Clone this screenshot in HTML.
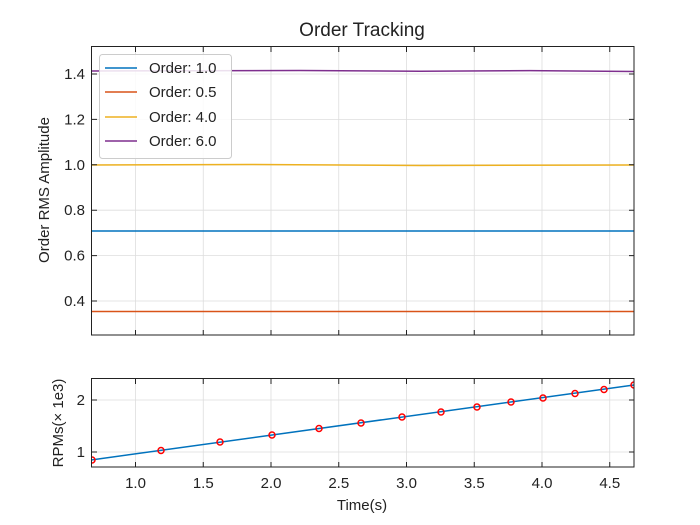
<!DOCTYPE html>
<html><head><style>body{margin:0;background:#fff}svg{display:block}text{font-family:"Liberation Sans",sans-serif;fill:#222}</style></head><body>
<svg width="700" height="525" viewBox="0 0 700 525">
<defs><clipPath id="c1"><rect x="91" y="46" width="543" height="289"/></clipPath><clipPath id="c2"><rect x="91" y="378" width="543" height="89"/></clipPath></defs>
<g stroke="#ddd" stroke-width="0.8">
<line x1="135.5" y1="46" x2="135.5" y2="335"/><line x1="203.25" y1="46" x2="203.25" y2="335"/><line x1="271" y1="46" x2="271" y2="335"/><line x1="338.75" y1="46" x2="338.75" y2="335"/><line x1="406.5" y1="46" x2="406.5" y2="335"/><line x1="474.25" y1="46" x2="474.25" y2="335"/><line x1="542" y1="46" x2="542" y2="335"/><line x1="609.75" y1="46" x2="609.75" y2="335"/>
<line x1="91" y1="301" x2="634" y2="301"/><line x1="91" y1="255.6" x2="634" y2="255.6"/><line x1="91" y1="210.2" x2="634" y2="210.2"/><line x1="91" y1="164.8" x2="634" y2="164.8"/><line x1="91" y1="119.4" x2="634" y2="119.4"/><line x1="91" y1="74" x2="634" y2="74"/>
<line x1="135.5" y1="378" x2="135.5" y2="467"/><line x1="203.25" y1="378" x2="203.25" y2="467"/><line x1="271" y1="378" x2="271" y2="467"/><line x1="338.75" y1="378" x2="338.75" y2="467"/><line x1="406.5" y1="378" x2="406.5" y2="467"/><line x1="474.25" y1="378" x2="474.25" y2="467"/><line x1="542" y1="378" x2="542" y2="467"/><line x1="609.75" y1="378" x2="609.75" y2="467"/>
<line x1="91" y1="400" x2="634" y2="400"/><line x1="91" y1="452" x2="634" y2="452"/>
</g>
<g clip-path="url(#c1)" fill="none" stroke-width="1.5">
<line x1="91" y1="231" x2="634" y2="231" stroke="#0072BD"/>
<line x1="91" y1="311.5" x2="634" y2="311.5" stroke="#D95319"/>
<polyline points="91,165 250,164.5 420,165.5 634,165" stroke="#EDB120"/>
<polyline points="91,71 300,70.5 420,71.3 530,70.6 634,71.5" stroke="#7E2F8E"/>
</g>
<g clip-path="url(#c2)">
<line x1="91" y1="460" x2="634" y2="385" stroke="#0072BD" stroke-width="1.5"/>
<g fill="none" stroke="red" stroke-width="1.5">
<circle cx="92" cy="460" r="3"/><circle cx="161" cy="450.5" r="3"/><circle cx="220" cy="442" r="3"/><circle cx="272" cy="435" r="3"/><circle cx="319" cy="428.5" r="3"/><circle cx="361" cy="423" r="3"/><circle cx="402" cy="417" r="3"/><circle cx="441" cy="412" r="3"/><circle cx="477" cy="407" r="3"/><circle cx="511" cy="402" r="3"/><circle cx="543" cy="398" r="3"/><circle cx="575" cy="393.5" r="3"/><circle cx="604" cy="389.5" r="3"/><circle cx="634" cy="385" r="3"/>
</g></g>
<g fill="none" stroke="#222" stroke-width="1">
<rect x="91.5" y="46.5" width="542.5" height="288.5"/>
<rect x="91.5" y="378.5" width="542.5" height="88.5"/>
<path d="M135.5 335v-5M203.25 335v-5M271 335v-5M338.75 335v-5M406.5 335v-5M474.25 335v-5M542 335v-5M609.75 335v-5M135.5 47v5M203.25 47v5M271 47v5M338.75 47v5M406.5 47v5M474.25 47v5M542 47v5M609.75 47v5M92 301h5M92 255.6h5M92 210.2h5M92 164.8h5M92 119.4h5M92 74h5M634 301h-5M634 255.6h-5M634 210.2h-5M634 164.8h-5M634 119.4h-5M634 74h-5"/>
<path d="M135.5 467v-5M203.25 467v-5M271 467v-5M338.75 467v-5M406.5 467v-5M474.25 467v-5M542 467v-5M609.75 467v-5M135.5 379v5M203.25 379v5M271 379v5M338.75 379v5M406.5 379v5M474.25 379v5M542 379v5M609.75 379v5M92 400h5M92 452h5M634 400h-5M634 452h-5"/>
</g>
<g font-size="15" text-anchor="end">
<text x="85" y="306">0.4</text><text x="85" y="260.6">0.6</text><text x="85" y="215.2">0.8</text><text x="85" y="169.8">1.0</text><text x="85" y="124.4">1.2</text><text x="85" y="79">1.4</text>
<text x="85" y="405">2</text><text x="85" y="457">1</text>
</g>
<g font-size="15" text-anchor="middle">
<text x="135.5" y="488">1.0</text><text x="203.25" y="488">1.5</text><text x="271" y="488">2.0</text><text x="338.75" y="488">2.5</text><text x="406.5" y="488">3.0</text><text x="474.25" y="488">3.5</text><text x="542" y="488">4.0</text><text x="609.75" y="488">4.5</text>
<text x="362" y="510">Time(s)</text>
<text x="362" y="36" font-size="19">Order Tracking</text>
<text transform="translate(49,190) rotate(-90)">Order RMS Amplitude</text>
<text transform="translate(63,423) rotate(-90)">RPMs(× 1e3)</text>
</g>
<rect x="99.5" y="54.5" width="132" height="104" rx="3" fill="#fff" fill-opacity="0.85" stroke="#ccc"/>
<g stroke-width="1.5"><line x1="105" y1="68" x2="137" y2="68" stroke="#0072BD"/><line x1="105" y1="92" x2="137" y2="92" stroke="#D95319"/><line x1="105" y1="117" x2="137" y2="117" stroke="#EDB120"/><line x1="105" y1="141" x2="137" y2="141" stroke="#7E2F8E"/></g>
<g font-size="15"><text x="149" y="73">Order: 1.0</text><text x="149" y="97">Order: 0.5</text><text x="149" y="122">Order: 4.0</text><text x="149" y="146">Order: 6.0</text></g>
</svg></body></html>
